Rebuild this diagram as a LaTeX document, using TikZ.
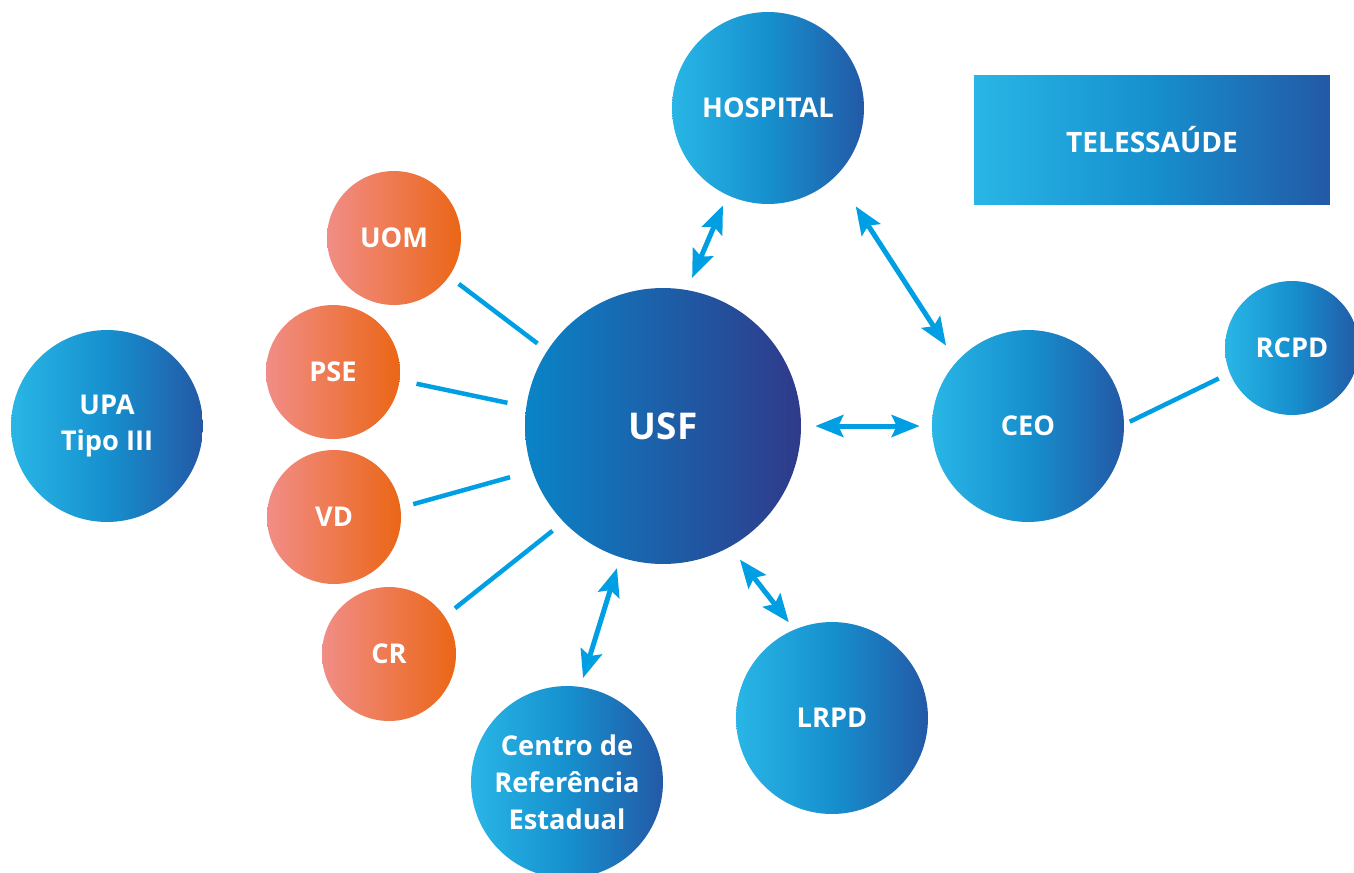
\documentclass[tikz,border=0pt]{standalone}
\usepackage{fontspec}
\setmainfont{Open Sans}
\usepackage{xcolor}
\definecolor{net-light}{HTML}{29B6E6}
\definecolor{net-mid}{HTML}{1690CE}
\definecolor{net-dark}{HTML}{2359A6}
\definecolor{hub-light}{HTML}{0A84C7}
\definecolor{hub-dark}{HTML}{2F3A8A}
\definecolor{local-light}{HTML}{F18D87}
\definecolor{local-dark}{HTML}{EB6616}
\definecolor{link-cyan}{HTML}{009FE3}
\usetikzlibrary{arrows.meta}

\begin{document}
\begin{tikzpicture}[
    x=0.02cm, y=-0.02cm,
    unit/.style={
      circle,
      minimum size=3.84cm,
      left color=net-light,
      right color=net-dark,
      middle color=net-mid,
      text=white,
      font=\bfseries\fontsize{15.5}{21}\selectfont,
      align=center,
      inner sep=0pt
    },
    small/.style={
      unit,
      minimum size=2.68cm
    },
    local/.style={
      small,
      left color=local-light,
      right color=local-dark
    },
    hub/.style={
      unit,
      minimum size=5.52cm,
      left color=hub-light,
      right color=hub-dark,
      font=\bfseries\fontsize{21}{25}\selectfont
    },
    panel/.style={
      rectangle,
      minimum width=7.12cm,
      minimum height=2.6cm,
      left color=net-light,
      right color=net-dark,
      middle color=net-mid,
      text=white,
      font=\bfseries\fontsize{16}{21}\selectfont
    },
    link/.style={
      line width=0.09cm,
      color=link-cyan
    },
    twoway/.style={
      link,
      line width=0.1cm,
      {Stealth[length=0.56cm, width=0.44cm, inset=0.1cm]}-{Stealth[length=0.56cm, width=0.44cm, inset=0.1cm]}
    }
  ]
    \useasboundingbox (0,0) rectangle (1354,872);

    % Health units around the family unit
    \node[hub] (usf) at (663,426) {USF};
    \node[unit] (hospital) at (768,108) {HOSPITAL};
    \node[unit] (ceo) at (1028,426) {CEO};
    \node[unit] (lrpd) at (832,718) {LRPD};
    \node[unit] (cre) at (567,782) {Centro de\\Referência\\Estadual};
    \node[unit] (upa) at (107,426) {UPA\\Tipo III};
    \node[small] (rcpd) at (1292,348) {RCPD};
    \node[panel] (tele) at (1152,140) {TELESSAÚDE};

    % Local programmes on the left
    \node[local] (uom) at (394,238) {UOM};
    \node[local] (pse) at (333,372) {PSE};
    \node[local] (vd) at (334,517) {VD};
    \node[local] (cr) at (389,654) {CR};

    % Plain links
    \draw[link, shorten <=0.24cm, shorten >=0.24cm] (uom.-35) -- (usf.147);
    \draw[link, shorten <=0.34cm, shorten >=0.38cm] (pse.-7) -- (usf.172);
    \draw[link, shorten <=0.26cm, shorten >=0.46cm] (vd.8) -- (usf.199);
    \draw[link, shorten <=0.26cm, shorten >=0.28cm] (cr.34) -- (usf.224);
    \draw[link, shorten <=0.12cm, shorten >=0.24cm] (ceo.1) -- (rcpd.202);

    % Two-way referrals
    \draw[twoway, shorten <=0.26cm, shorten >=0.22cm] (usf.80) -- (hospital.245);
    \draw[twoway, shorten <=0.72cm, shorten >=0.38cm] (hospital.-45) -- (ceo.138);
    \draw[twoway, shorten <=0.28cm, shorten >=0.24cm] (usf.east) -- (ceo.west);
    \draw[twoway, shorten <=0.22cm, shorten >=0.18cm] (usf.-108) -- (cre.82);
    \draw[twoway, shorten <=0.32cm, shorten >=0.18cm] (usf.-61) -- (lrpd.113);
  \end{tikzpicture}
\end{document}
